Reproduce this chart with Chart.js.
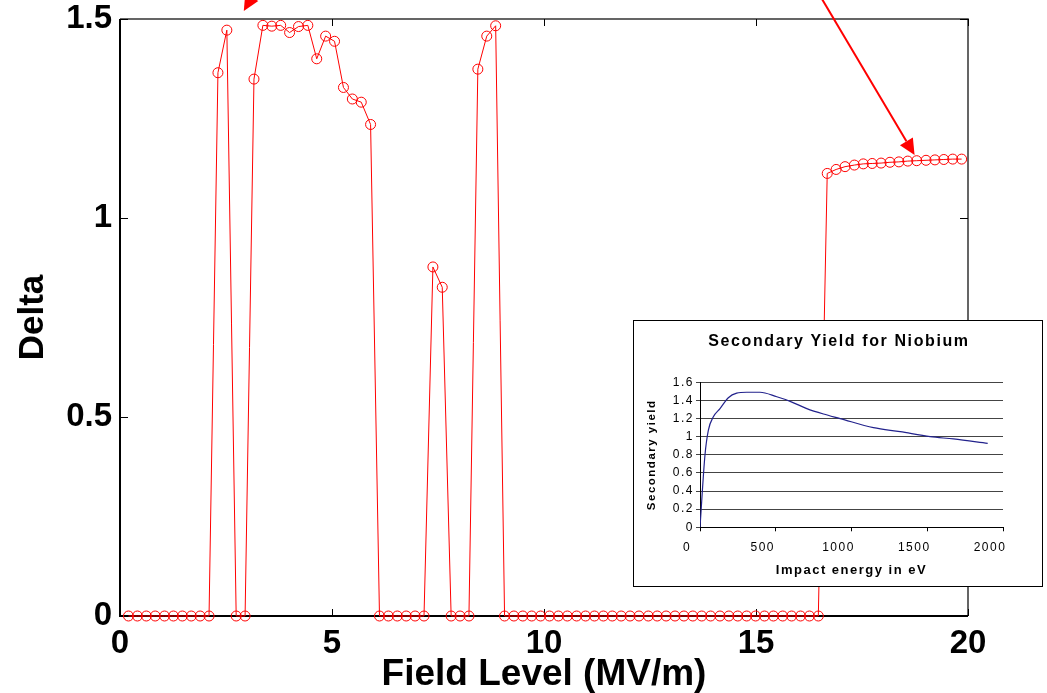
<!DOCTYPE html>
<html>
<head>
<meta charset="utf-8">
<title>Delta vs Field Level</title>
<script src="https://cdn.jsdelivr.net/npm/chart.js@4.4.1/dist/chart.umd.min.js"></script>
<style>
  html, body { margin: 0; padding: 0; background: #fff; }
  #wrap { position: relative; width: 1047px; height: 693px; overflow: hidden; }
  #main { position: absolute; left: 0; top: 0; }
  #inset { position: absolute; left: 633px; top: 320px; width: 410px; height: 267px;
           box-sizing: border-box; border: 1px solid #000; background: #fff; }
  #inset canvas { display: block; }
</style>
</head>
<body>
<div id="wrap">
  <canvas id="main" width="1047" height="693"></canvas>
  <div id="inset"><canvas id="insetCanvas" width="408" height="265"></canvas></div>
</div>
<script>
// main plot: Delta vs field level (red circles)
const FIELD_LEVEL = [
  0.20, 0.41, 0.62, 0.83, 1.05, 1.26, 1.47, 1.68, 1.89, 2.10,
  2.31, 2.52, 2.74, 2.95, 3.16, 3.37, 3.58, 3.79, 4.00, 4.21,
  4.43, 4.64, 4.85, 5.06, 5.27, 5.48, 5.69, 5.91, 6.12, 6.33,
  6.54, 6.75, 6.96, 7.17, 7.38, 7.60, 7.81, 8.02, 8.23, 8.44,
  8.65, 8.86, 9.07, 9.29, 9.50, 9.71, 9.92, 10.13, 10.34, 10.55,
  10.77, 10.98, 11.19, 11.40, 11.61, 11.82, 12.03, 12.24, 12.46, 12.67,
  12.88, 13.09, 13.30, 13.51, 13.72, 13.93, 14.15, 14.36, 14.57, 14.78,
  14.99, 15.20, 15.41, 15.63, 15.84, 16.05, 16.26, 16.47, 16.68, 16.89,
  17.10, 17.32, 17.53, 17.74, 17.95, 18.16, 18.37, 18.58, 18.79, 19.01,
  19.22, 19.43, 19.64, 19.85
];
const DELTA = [
  0, 0, 0, 0, 0, 0, 0, 0, 0, 0,
  1.365, 1.472, 0, 0, 1.349, 1.484, 1.482, 1.484, 1.466, 1.481,
  1.484, 1.400, 1.457, 1.444, 1.328, 1.299, 1.291, 1.235, 0, 0,
  0, 0, 0, 0, 0.877, 0.826, 0, 0, 0, 1.374,
  1.457, 1.483, 0, 0, 0, 0, 0, 0, 0, 0,
  0, 0, 0, 0, 0, 0, 0, 0, 0, 0,
  0, 0, 0, 0, 0, 0, 0, 0, 0, 0,
  0, 0, 0, 0, 0, 0, 0, 0, 1.112, 1.122,
  1.129, 1.133, 1.136, 1.137, 1.138, 1.140, 1.141, 1.143, 1.144, 1.145,
  1.146, 1.147, 1.148, 1.148
];
const MAIN_X_TICKS = [0, 5, 10, 15, 20];
const MAIN_Y_TICKS = [0, 0.5, 1, 1.5];

// inset: secondary yield for niobium (blue curve)
const INSET_TITLE = 'Secondary Yield for Niobium';
const ENERGY_EV = [0, 33, 55, 88, 132, 187, 242, 308, 396, 507, 595, 705, 815, 925, 1145, 1321, 1519, 1673, 1899];
const SEC_YIELD = [0, 0.80, 1.07, 1.22, 1.31, 1.43, 1.48, 1.49, 1.49, 1.44, 1.39, 1.31, 1.25, 1.20, 1.10, 1.055, 1.00, 0.975, 0.927];
const INSET_X_TICKS = [0, 500, 1000, 1500, 2000];
const INSET_Y_TICKS = [0, 0.2, 0.4, 0.6, 0.8, 1, 1.2, 1.4, 1.6];

// red annotation arrows, in data units of the main plot
const ARROWS = [
  { from: [3.34, 1.598], to: [2.92, 1.520] },
  { from: [16.29, 1.598], to: [18.74, 1.158] }
];

const FONT = "Arial, 'Liberation Sans', Helvetica, sans-serif";
Chart.defaults.color = '#000';

const fixTicks = list => scale => { scale.ticks = list.map(v => ({ value: v })); };
const fmt = v => String(+Number(v).toFixed(2));

// box round the main plot with matlab-style inward ticks
const framePlugin = {
  id: 'frame',
  beforeDatasetsDraw(chart) {
    const { ctx, chartArea: a, scales: { x, y } } = chart;
    ctx.save();
    ctx.lineWidth = 1.5;
    ctx.strokeStyle = '#333';
    ctx.beginPath();
    ctx.moveTo(a.left, a.top); ctx.lineTo(a.right, a.top); ctx.lineTo(a.right, a.bottom);
    ctx.stroke();
    ctx.lineWidth = 2;
    ctx.strokeStyle = '#000';
    ctx.beginPath();
    ctx.moveTo(a.left, a.top); ctx.lineTo(a.left, a.bottom); ctx.lineTo(a.right, a.bottom);
    ctx.stroke();

    ctx.lineWidth = 1;
    ctx.beginPath();
    x.ticks.forEach(t => {
      const px = Math.round(x.getPixelForValue(t.value)) + 0.5;
      ctx.moveTo(px, a.bottom); ctx.lineTo(px, a.bottom - 7);
      ctx.moveTo(px, a.top); ctx.lineTo(px, a.top + 7);
    });
    y.ticks.forEach(t => {
      const py = Math.round(y.getPixelForValue(t.value)) + 0.5;
      ctx.moveTo(a.left, py); ctx.lineTo(a.left + 8, py);
      ctx.moveTo(a.right, py); ctx.lineTo(a.right - 8, py);
    });
    ctx.stroke();
    ctx.restore();
  }
};

const arrowPlugin = {
  id: 'arrows',
  afterDraw(chart) {
    const { ctx, scales: { x, y } } = chart;
    ctx.save();
    ctx.strokeStyle = '#ff0000';
    ctx.fillStyle = '#ff0000';
    ctx.lineWidth = 2;
    ARROWS.forEach(ar => {
      const x0 = x.getPixelForValue(ar.from[0]), y0 = y.getPixelForValue(ar.from[1]);
      const x1 = x.getPixelForValue(ar.to[0]), y1 = y.getPixelForValue(ar.to[1]);
      const len = Math.hypot(x1 - x0, y1 - y0);
      const ux = (x1 - x0) / len, uy = (y1 - y0) / len;
      const hl = 16, hw = 7.5;
      const bx = x1 - ux * hl, by = y1 - uy * hl;
      ctx.beginPath();
      ctx.moveTo(x0, y0); ctx.lineTo(bx, by);
      ctx.stroke();
      ctx.beginPath();
      ctx.moveTo(x1, y1);
      ctx.lineTo(bx - uy * hw, by + ux * hw);
      ctx.lineTo(bx + uy * hw, by - ux * hw);
      ctx.closePath();
      ctx.fill();
    });
    ctx.restore();
  }
};

new Chart(document.getElementById('main'), {
  type: 'scatter',
  data: {
    datasets: [{
      data: FIELD_LEVEL.map((v, i) => ({ x: v, y: DELTA[i] })),
      showLine: true,
      borderColor: '#ff0000',
      borderWidth: 1,
      pointStyle: 'circle',
      pointRadius: 5,
      pointBorderWidth: 1,
      pointBorderColor: '#ff0000',
      pointBackgroundColor: 'rgba(255,255,255,0)',
      clip: false
    }]
  },
  options: {
    responsive: false,
    animation: false,
    events: [],
    layout: { padding: { top: 19, right: 79, bottom: 0, left: 0 } },
    plugins: { legend: { display: false }, tooltip: { enabled: false } },
    scales: {
      x: {
        type: 'linear', min: 0, max: 20,
        afterBuildTicks: fixTicks(MAIN_X_TICKS),
        afterFit: s => { s.height = 77; },
        grid: { display: false, drawTicks: false },
        border: { display: false },
        ticks: {
          padding: 8, autoSkip: false, maxRotation: 0, color: '#000',
          font: { family: FONT, size: 33, weight: 'bold' },
          callback: fmt
        },
        title: {
          display: true, text: 'Field Level (MV/m)', color: '#000', padding: 0,
          font: { family: FONT, size: 37, weight: 'bold', lineHeight: 1 }
        }
      },
      y: {
        type: 'linear', min: 0, max: 1.5,
        afterBuildTicks: fixTicks(MAIN_Y_TICKS),
        afterFit: s => { s.width = 120; s.paddingTop = 0; s.paddingBottom = 0; },
        grid: { display: false, drawTicks: false },
        border: { display: false },
        ticks: {
          padding: 8, autoSkip: false, color: '#000',
          font: { family: FONT, size: 33, weight: 'bold' },
          callback: fmt
        },
        title: {
          display: true, text: 'Delta', color: '#000', padding: { top: 16, bottom: 0 },
          font: { family: FONT, size: 35, weight: 'bold', lineHeight: 1 }
        }
      }
    }
  },
  plugins: [framePlugin, arrowPlugin]
});

// excel-like inset has stretched, widely spaced text
const insetTextPlugin = {
  id: 'insetText',
  beforeDraw(chart) { chart.ctx.letterSpacing = '1.5px'; },
  afterDraw(chart) {
    const ctx = chart.ctx;
    ctx.save();
    ctx.letterSpacing = '1.6px';
    ctx.font = 'bold 16px ' + FONT;
    ctx.textAlign = 'center';
    ctx.textBaseline = 'middle';
    ctx.fillStyle = '#000';
    ctx.fillText(INSET_TITLE, chart.width / 2 + 1, 21);
    ctx.restore();
  }
};

new Chart(document.getElementById('insetCanvas'), {
  type: 'scatter',
  data: {
    datasets: [{
      data: ENERGY_EV.map((v, i) => ({ x: v, y: SEC_YIELD[i] })),
      showLine: true,
      borderColor: '#22228c',
      borderWidth: 1.2,
      pointRadius: 0,
      cubicInterpolationMode: 'monotone'
    }]
  },
  options: {
    responsive: false,
    animation: false,
    events: [],
    layout: { padding: { top: 61.3, right: 39, bottom: 0, left: 0 } },
    plugins: {
      legend: { display: false },
      tooltip: { enabled: false },
      title: { display: false }
    },
    scales: {
      x: {
        type: 'linear', min: 0, max: 2000,
        afterBuildTicks: fixTicks(INSET_X_TICKS),
        afterFit: s => { s.height = 58.7; },
        grid: { display: true, drawOnChartArea: false, drawTicks: true, tickLength: 4, color: '#000' },
        border: { display: true, color: '#000', width: 1 },
        ticks: {
          padding: 9, labelOffset: -13, autoSkip: false, maxRotation: 0, color: '#000',
          font: { family: FONT, size: 12 },
          callback: v => String(v)
        },
        title: {
          display: true, text: 'Impact energy in eV', color: '#000',
          padding: { top: 0, bottom: 9 },
          font: { family: FONT, size: 13, weight: 'bold', lineHeight: 1 }
        }
      },
      y: {
        type: 'linear', min: 0, max: 1.6,
        afterBuildTicks: fixTicks(INSET_Y_TICKS),
        afterFit: s => { s.width = 66; s.paddingTop = 0; s.paddingBottom = 0; },
        grid: { color: '#444', lineWidth: 1, drawTicks: true, tickLength: 4 },
        border: { display: true, color: '#000', width: 1 },
        ticks: {
          padding: 2, autoSkip: false, color: '#000',
          font: { family: FONT, size: 12 },
          callback: fmt
        },
        title: {
          display: true, text: 'Secondary yield', color: '#000',
          padding: { top: 12, bottom: 0 },
          font: { family: FONT, size: 11.5, weight: 'bold', lineHeight: 1 }
        }
      }
    }
  },
  plugins: [insetTextPlugin]
});
</script>
</body>
</html>
